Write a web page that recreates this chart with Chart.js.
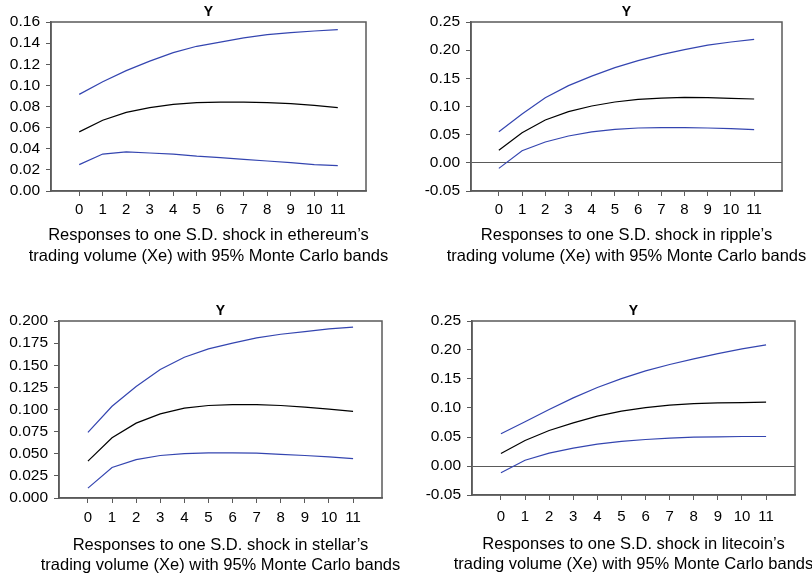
<!DOCTYPE html>
<html>
<head>
<meta charset="utf-8">
<script src="https://cdn.jsdelivr.net/npm/chart.js@4/dist/chart.umd.min.js"></script>
<style>
  html, body { margin: 0; padding: 0; background: #fff; overflow: hidden; width: 812px; height: 576px; }
  canvas { position: absolute; }
</style>
</head>
<body>
<canvas id="c1"></canvas>
<canvas id="c2"></canvas>
<canvas id="c3"></canvas>
<canvas id="c4"></canvas>
<script>
// ---- data ----
const steps = [0, 1, 2, 3, 4, 5, 6, 7, 8, 9, 10, 11];
const xTickLabels = ['0', '1', '2', '3', '4', '5', '6', '7', '8', '9', '10', '11'];

const ethUpper = [0.0915, 0.1035, 0.114, 0.123, 0.131, 0.137, 0.141, 0.145, 0.148, 0.150, 0.1515, 0.1527];
const ethResp  = [0.056, 0.067, 0.0745, 0.079, 0.082, 0.0836, 0.0842, 0.0842, 0.0836, 0.0827, 0.081, 0.079];
const ethLower = [0.025, 0.035, 0.037, 0.036, 0.035, 0.033, 0.0316, 0.030, 0.0284, 0.0268, 0.025, 0.024];

const xrpUpper = [0.0553, 0.0867, 0.1157, 0.137, 0.154, 0.169, 0.1814, 0.192, 0.2009, 0.209, 0.2145, 0.219];
const xrpResp  = [0.0222, 0.0535, 0.076, 0.0908, 0.1009, 0.108, 0.1127, 0.115, 0.1163, 0.1157, 0.1145, 0.1133];
const xrpLower = [-0.0098, 0.0216, 0.037, 0.0476, 0.055, 0.0595, 0.0618, 0.0624, 0.0624, 0.0618, 0.0607, 0.059];

const xlmUpper = [0.0742, 0.1037, 0.126, 0.1453, 0.159, 0.1685, 0.175, 0.181, 0.185, 0.188, 0.191, 0.193];
const xlmResp  = [0.0416, 0.068, 0.0846, 0.095, 0.1015, 0.1045, 0.1056, 0.1056, 0.1045, 0.1026, 0.1004, 0.0978];
const xlmLower = [0.0112, 0.0345, 0.0434, 0.048, 0.0502, 0.051, 0.051, 0.0506, 0.0494, 0.048, 0.0464, 0.0446];

const ltcUpper = [0.0555, 0.0762, 0.0974, 0.1175, 0.1353, 0.1507, 0.164, 0.175, 0.1846, 0.1938, 0.2018, 0.2087];
const ltcResp  = [0.0216, 0.0439, 0.0612, 0.0744, 0.0859, 0.0945, 0.1008, 0.1048, 0.1077, 0.1089, 0.1094, 0.110];
const ltcLower = [-0.0117, 0.010, 0.0222, 0.0308, 0.0377, 0.0423, 0.0457, 0.048, 0.0497, 0.0503, 0.0509, 0.0509];

const yTicksEth = ['0.00', '0.02', '0.04', '0.06', '0.08', '0.10', '0.12', '0.14', '0.16'];
const yTicksXrp = ['-0.05', '0.00', '0.05', '0.10', '0.15', '0.20', '0.25'];
const yTicksXlm = ['0.000', '0.025', '0.050', '0.075', '0.100', '0.125', '0.150', '0.175', '0.200'];
const yTicksLtc = ['-0.05', '0.00', '0.05', '0.10', '0.15', '0.20', '0.25'];

const panelTitle = 'Y';
const captionEth = ["Responses to one S.D. shock in ethereum\u2019s", 'trading volume (Xe) with 95% Monte Carlo bands'];
const captionXrp = ["Responses to one S.D. shock in ripple\u2019s", 'trading volume (Xe) with 95% Monte Carlo bands'];
const captionXlm = ["Responses to one S.D. shock in stellar\u2019s", 'trading volume (Xe) with 95% Monte Carlo bands'];
const captionLtc = ["Responses to one S.D. shock in litecoin\u2019s", 'trading volume (Xe) with 95% Monte Carlo bands'];

// ---- styling / layout ----
const FONT = '"Liberation Sans", Arial, Helvetica, sans-serif';
const BLUE = '#3445b0';
const AXIS = '#5a5a5a';
const WY = 50, TP = 22, RP = 30;

const boxPlugin = {
  id: 'boxPlugin',
  afterDatasetsDraw(chart) {
    const a = chart.chartArea, ctx = chart.ctx;
    const o = chart.options.plugins.boxPlugin;
    const cx = (a.left + a.right) / 2;
    ctx.save();
    ctx.strokeStyle = AXIS;
    ctx.lineWidth = 1.5;
    ctx.strokeRect(a.left, a.top, a.right - a.left, a.bottom - a.top);
    ctx.fillStyle = '#000';
    ctx.font = 'bold 14px ' + FONT;
    ctx.textAlign = 'center';
    ctx.textBaseline = 'middle';
    ctx.fillText(o.title, cx, a.top - 10);
    ctx.font = '16.5px ' + FONT;
    o.caption.forEach((line, i) => {
      ctx.fillText(line, cx, a.bottom + o.capOffset + i * o.capGap);
    });
    ctx.restore();
  }
};

function makePanel(id, area, hx, tickPad, capOffset, capGap, yLabels, upper, resp, lower, caption) {
  const cv = document.getElementById(id);
  const W = area.R - area.L + WY + RP;
  const H = area.B - area.T + TP + hx;
  cv.width = W; cv.height = H;
  cv.style.left = (area.L - WY) + 'px';
  cv.style.top = (area.T - TP) + 'px';
  cv.style.width = W + 'px'; cv.style.height = H + 'px';
  const pts = arr => steps.map((s, i) => ({ x: s, y: arr[i] }));
  const yVals = yLabels.map(Number);
  const hasZero = yVals[0] < 0;
  new Chart(cv, {
    type: 'line',
    data: {
      datasets: [
        { data: pts(upper), borderColor: BLUE, borderWidth: 1.2, pointRadius: 0, tension: 0 },
        { data: pts(resp), borderColor: '#000', borderWidth: 1.2, pointRadius: 0, tension: 0 },
        { data: pts(lower), borderColor: BLUE, borderWidth: 1.2, pointRadius: 0, tension: 0 }
      ]
    },
    options: {
      responsive: false,
      animation: false,
      devicePixelRatio: 1,
      layout: { padding: { left: 0, right: RP, top: TP, bottom: 0 } },
      plugins: {
        legend: { display: false },
        tooltip: { enabled: false },
        title: { display: false },
        boxPlugin: { title: panelTitle, caption: caption, capOffset: capOffset, capGap: capGap }
      },
      scales: {
        x: {
          type: 'linear',
          min: -1.2, max: 12.2,
          afterBuildTicks: s => { s.ticks = steps.map(v => ({ value: v })); },
          afterFit: s => { s.height = hx; },
          ticks: {
            callback: (v, i) => xTickLabels[i],
            color: '#000',
            font: { family: FONT, size: 15 },
            padding: tickPad,
            maxRotation: 0,
            autoSkip: false
          },
          grid: { drawOnChartArea: false, drawTicks: true, tickLength: 5, color: AXIS, tickColor: AXIS, lineWidth: 1 },
          border: { display: true, color: AXIS, width: 1.5 }
        },
        y: {
          type: 'linear',
          min: yVals[0], max: yVals[yVals.length - 1],
          afterBuildTicks: s => { s.ticks = yVals.map(v => ({ value: v })); },
          afterFit: s => { s.width = WY; },
          ticks: {
            callback: (v, i) => yLabels[i],
            color: '#000',
            font: { family: FONT, size: 15.5 },
            padding: 6,
            autoSkip: false
          },
          grid: {
            drawOnChartArea: hasZero,
            drawTicks: true,
            tickLength: 5,
            color: c => (hasZero && c.tick && c.tick.value === 0) ? AXIS : 'rgba(0,0,0,0)',
            tickColor: AXIS,
            lineWidth: 1
          },
          border: { display: true, color: AXIS, width: 1.5 }
        }
      }
    },
    plugins: [boxPlugin]
  });
}

makePanel('c1', { L: 51, T: 22, R: 366, B: 191 }, 80, 5, 44, 21, yTicksEth, ethUpper, ethResp, ethLower, captionEth);
makePanel('c2', { L: 471, T: 22, R: 782, B: 191 }, 80, 5, 44, 21, yTicksXrp, xrpUpper, xrpResp, xrpLower, captionXrp);
makePanel('c3', { L: 59, T: 321, R: 382, B: 498 }, 78, 6, 47, 20, yTicksXlm, xlmUpper, xlmResp, xlmLower, captionXlm);
makePanel('c4', { L: 472, T: 321, R: 795, B: 495 }, 81, 8, 49, 20, yTicksLtc, ltcUpper, ltcResp, ltcLower, captionLtc);
</script>
</body>
</html>
